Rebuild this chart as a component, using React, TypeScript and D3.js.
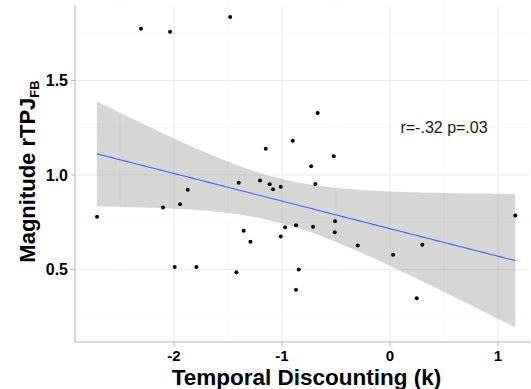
import * as React from "react"
import * as d3 from "d3"

// temporal discounting (log k) per participant
const discount = [
  -2.306, -2.037, -1.48, -1.873, -1.401, -1.204, -1.151, -1.114, -1.083, -1.012,
  -0.901, -0.67, -0.521, -0.731, -0.691, -2.713, -2.102, -1.944, -1.994, -1.793,
  -1.423, -1.355, -1.293, -1.012, -0.972, -0.87, -0.845, -0.87, -0.713, -0.509,
  -0.512, -0.299, 0.028, 0.299, 0.247, 1.16,
]
// rTPJ feedback magnitude, same order
const magnitude = [
  1.774, 1.758, 1.836, 0.922, 0.959, 0.97, 1.139, 0.951, 0.924, 0.937,
  1.181, 1.328, 1.099, 1.046, 0.952, 0.779, 0.827, 0.845, 0.513, 0.513,
  0.485, 0.704, 0.647, 0.674, 0.723, 0.734, 0.499, 0.392, 0.726, 0.755,
  0.697, 0.626, 0.578, 0.63, 0.348, 0.785,
]
const xTicks = [-2, -1, 0, 1]
const xMinor = [-2.5, -1.5, -0.5, 0.5]
const yTicks = [0.5, 1.0, 1.5]
const yMinor = [0.25, 0.75, 1.25, 1.75]
const statLabel = "r=-.32 p=.03"

const W = 531
const H = 389
const panel = { left: 75, right: 530, top: 5, bottom: 342 }
const font = "'Liberation Sans', Arial, Helvetica, sans-serif"

// linear fit with 95% band, like geom_smooth(method = "lm")
function fitBand(xs: number[], ys: number[]) {
  const n = xs.length
  const mx = d3.mean(xs) as number
  const my = d3.mean(ys) as number
  const sxx = d3.sum(xs, v => (v - mx) ** 2)
  const sxy = d3.sum(xs.map((v, i) => (v - mx) * (ys[i] - my)))
  const b = sxy / sxx
  const a = my - b * mx
  const sse = d3.sum(xs.map((v, i) => (ys[i] - (a + b * v)) ** 2))
  const s = Math.sqrt(sse / (n - 2))
  const t = 2.032 // qt(0.975, 34)
  const [lo, hi] = d3.extent(xs) as [number, number]
  return d3.range(81).map(i => {
    const x = lo + (hi - lo) * i / 80
    const fit = a + b * x
    const se = s * Math.sqrt(1 / n + (x - mx) ** 2 / sxx)
    return { x, fit, lower: fit - t * se, upper: fit + t * se }
  })
}

export default function App() {
  const x = d3.scaleLinear().domain([-2.917, 1.296]).range([panel.left, panel.right])
  const y = d3.scaleLinear().domain([0.116, 1.899]).range([panel.bottom, panel.top])

  const band = fitBand(discount, magnitude)
  const area = d3.area<typeof band[0]>()
    .x(d => x(d.x))
    .y0(d => y(d.lower))
    .y1(d => y(d.upper))
  const line = d3.line<typeof band[0]>()
    .x(d => x(d.x))
    .y(d => y(d.fit))

  return (
    <svg width={W} height={H} style={{ position: "absolute", left: 0, top: 0, background: "#fff" }}>
      <defs>
        <clipPath id="panel">
          <rect x={panel.left} y={panel.top} width={panel.right - panel.left} height={panel.bottom - panel.top} />
        </clipPath>
      </defs>

      {/* grid */}
      {xMinor.map(t => (
        <line key={"xm" + t} x1={x(t)} x2={x(t)} y1={panel.top} y2={panel.bottom} stroke="#f4f4f4" strokeWidth={0.6} />
      ))}
      {yMinor.map(t => (
        <line key={"ym" + t} x1={panel.left} x2={panel.right} y1={y(t)} y2={y(t)} stroke="#f4f4f4" strokeWidth={0.6} />
      ))}
      {xTicks.map(t => (
        <line key={"xg" + t} x1={x(t)} x2={x(t)} y1={panel.top} y2={panel.bottom} stroke="#ececec" strokeWidth={1} />
      ))}
      {yTicks.map(t => (
        <line key={"yg" + t} x1={panel.left} x2={panel.right} y1={y(t)} y2={y(t)} stroke="#ececec" strokeWidth={1} />
      ))}

      <g clipPath="url(#panel)">
        <path d={area(band) ?? ""} fill="#999999" fillOpacity={0.4} />
        <path d={line(band) ?? ""} fill="none" stroke="#3366FF" strokeWidth={1.1} />
        {discount.map((d, i) => (
          <circle key={i} cx={x(d)} cy={y(magnitude[i])} r={2} fill="#000" />
        ))}
      </g>

      <text x={x(0.5)} y={133} textAnchor="middle" fontFamily={font} fontSize={16} fill="#1a1a1a">
        {statLabel}
      </text>

      {/* axes */}
      <line x1={panel.left} x2={panel.left} y1={panel.top} y2={panel.bottom} stroke="#b3b3b3" strokeWidth={1} />
      <line x1={panel.left} x2={panel.right} y1={panel.bottom} y2={panel.bottom} stroke="#b3b3b3" strokeWidth={1} />
      {xTicks.map(t => (
        <g key={"xt" + t}>
          <line x1={x(t)} x2={x(t)} y1={panel.bottom} y2={panel.bottom + 4} stroke="#b3b3b3" />
          <text x={x(t)} y={361} textAnchor="middle" fontFamily={font} fontWeight="bold" fontSize={15} fill="#000">
            {String(t)}
          </text>
        </g>
      ))}
      {yTicks.map(t => (
        <g key={"yt" + t}>
          <line x1={panel.left - 4} x2={panel.left} y1={y(t)} y2={y(t)} stroke="#b3b3b3" />
          <text x={68} y={y(t)} dy="0.36em" textAnchor="end" fontFamily={font} fontWeight="bold" fontSize={16} fill="#000">
            {d3.format(".1f")(t)}
          </text>
        </g>
      ))}

      {/* titles */}
      <text x={(panel.left + panel.right) / 2 + 4} y={385} textAnchor="middle" fontFamily={font} fontWeight="bold" fontSize={22.5} fill="#000">
        Temporal Discounting (k)
      </text>
      <text transform={`translate(35,${(panel.top + panel.bottom) / 2 - 2}) rotate(-90)`} textAnchor="middle" fontFamily={font} fontWeight="bold" fontSize={22} fill="#000">
        Magnitude rTPJ
        <tspan fontSize={13} dy={4}>FB</tspan>
      </text>
    </svg>
  )
}
